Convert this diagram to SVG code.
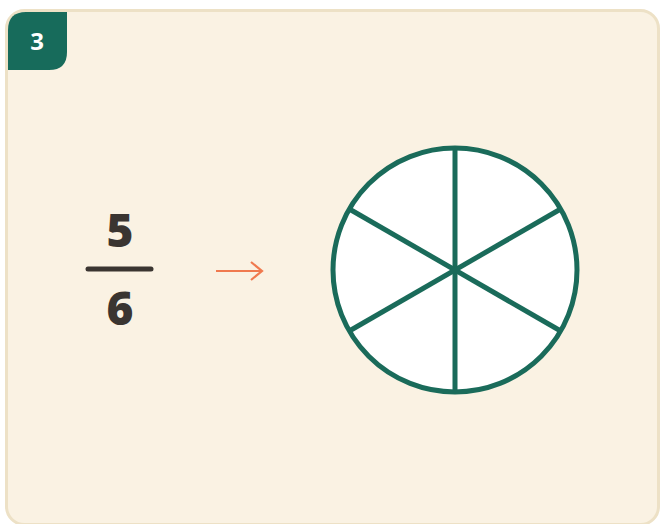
<svg xmlns="http://www.w3.org/2000/svg" width="660" height="524" viewBox="0 0 660 524">
<style>
.card{fill:#faf2e3;stroke:#ede1c6;stroke-width:3}
.pie{fill:#ffffff;stroke:#1a6b5a;stroke-width:5}
.spoke{stroke:#1a6b5a;stroke-width:5;stroke-linecap:butt}
.num{font-family:"Open Sans","DejaVu Sans",sans-serif;font-weight:800;fill:#3a3531;text-anchor:middle}
</style>
<rect width="660" height="524" fill="#ffffff"/>
<g id="card">
<rect class="card" x="6.5" y="10.5" width="652" height="514" rx="18"/>
</g>
<g id="badge">
<path d="M8 30 Q8 12 26 12 L67 12 L67 52 Q67 70 49 70 L8 70 Z" fill="#176b5b"/>
<text x="37" y="50" font-family="Open Sans, DejaVu Sans, sans-serif" font-weight="700" font-size="24" fill="#ffffff" text-anchor="middle">3</text>
</g>
<g id="fraction">
<text class="num" x="120" y="247" font-size="46">5</text>
<line x1="88" y1="269" x2="151" y2="269" stroke="#3a3531" stroke-width="5" stroke-linecap="round"/>
<text class="num" x="120" y="325" font-size="46">6</text>
</g>
<g id="arrow">
<line x1="216" y1="271" x2="261" y2="271" stroke="#f07a4f" stroke-width="2.2"/>
<path d="M251 262 L262 271 L251 280" fill="none" stroke="#f07a4f" stroke-width="2.2"/>
</g>
<g id="pie">
<circle class="pie" cx="455" cy="270" r="122"/>
<line class="spoke" x1="455" y1="148" x2="455" y2="392"/>
<line class="spoke" x1="349.3" y1="209" x2="560.7" y2="331"/>
<line class="spoke" x1="349.3" y1="331" x2="560.7" y2="209"/>
</g>
</svg>
